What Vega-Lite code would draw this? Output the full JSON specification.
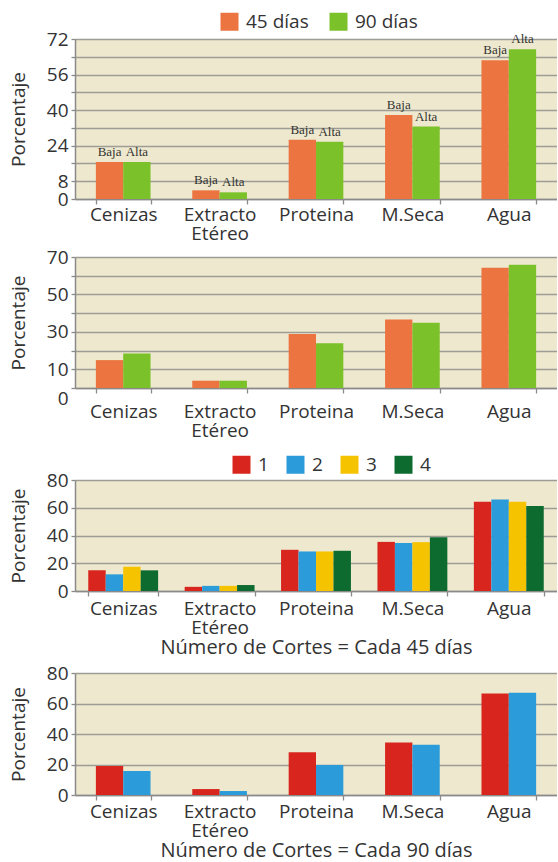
{
  "$schema": "https://vega.github.io/schema/vega-lite/v6.json",
  "padding": {"left": 9, "top": 12, "right": 0, "bottom": 0},
  "datasets": {
    "p1": [
      {"componente": "Cenizas", "edad": "45 días", "etiqueta": "Baja", "valor": 16.6},
      {"componente": "Cenizas", "edad": "90 días", "etiqueta": "Alta", "valor": 16.6},
      {"componente": "Extracto Etéreo", "edad": "45 días", "etiqueta": "Baja", "valor": 3.9},
      {"componente": "Extracto Etéreo", "edad": "90 días", "etiqueta": "Alta", "valor": 3.0},
      {"componente": "Proteina", "edad": "45 días", "etiqueta": "Baja", "valor": 26.7},
      {"componente": "Proteina", "edad": "90 días", "etiqueta": "Alta", "valor": 25.8},
      {"componente": "M.Seca", "edad": "45 días", "etiqueta": "Baja", "valor": 37.8},
      {"componente": "M.Seca", "edad": "90 días", "etiqueta": "Alta", "valor": 32.6},
      {"componente": "Agua", "edad": "45 días", "etiqueta": "Baja", "valor": 62.4},
      {"componente": "Agua", "edad": "90 días", "etiqueta": "Alta", "valor": 67.4}
    ],
    "p2": [
      {"componente": "Cenizas", "edad": "45 días", "valor": 14.9},
      {"componente": "Cenizas", "edad": "90 días", "valor": 18.4},
      {"componente": "Extracto Etéreo", "edad": "45 días", "valor": 3.9},
      {"componente": "Extracto Etéreo", "edad": "90 días", "valor": 3.9},
      {"componente": "Proteina", "edad": "45 días", "valor": 28.9},
      {"componente": "Proteina", "edad": "90 días", "valor": 23.9},
      {"componente": "M.Seca", "edad": "45 días", "valor": 36.6},
      {"componente": "M.Seca", "edad": "90 días", "valor": 34.8},
      {"componente": "Agua", "edad": "45 días", "valor": 64.3},
      {"componente": "Agua", "edad": "90 días", "valor": 65.9}
    ],
    "p3": [
      {"componente": "Cenizas", "corte": "1", "valor": 15.0},
      {"componente": "Cenizas", "corte": "2", "valor": 12.0},
      {"componente": "Cenizas", "corte": "3", "valor": 17.5},
      {"componente": "Cenizas", "corte": "4", "valor": 14.9},
      {"componente": "Extracto Etéreo", "corte": "1", "valor": 3.0},
      {"componente": "Extracto Etéreo", "corte": "2", "valor": 3.7},
      {"componente": "Extracto Etéreo", "corte": "3", "valor": 3.7},
      {"componente": "Extracto Etéreo", "corte": "4", "valor": 4.3},
      {"componente": "Proteina", "corte": "1", "valor": 29.7},
      {"componente": "Proteina", "corte": "2", "valor": 28.5},
      {"componente": "Proteina", "corte": "3", "valor": 28.5},
      {"componente": "Proteina", "corte": "4", "valor": 29.0},
      {"componente": "M.Seca", "corte": "1", "valor": 35.4},
      {"componente": "M.Seca", "corte": "2", "valor": 34.6},
      {"componente": "M.Seca", "corte": "3", "valor": 35.2},
      {"componente": "M.Seca", "corte": "4", "valor": 38.7},
      {"componente": "Agua", "corte": "1", "valor": 64.3},
      {"componente": "Agua", "corte": "2", "valor": 66.0},
      {"componente": "Agua", "corte": "3", "valor": 64.3},
      {"componente": "Agua", "corte": "4", "valor": 61.2}
    ],
    "p4": [
      {"componente": "Cenizas", "corte": "1", "valor": 19.0},
      {"componente": "Cenizas", "corte": "2", "valor": 15.7},
      {"componente": "Extracto Etéreo", "corte": "1", "valor": 3.9},
      {"componente": "Extracto Etéreo", "corte": "2", "valor": 2.6},
      {"componente": "Proteina", "corte": "1", "valor": 28.0},
      {"componente": "Proteina", "corte": "2", "valor": 19.7},
      {"componente": "M.Seca", "corte": "1", "valor": 34.5},
      {"componente": "M.Seca", "corte": "2", "valor": 33.0},
      {"componente": "Agua", "corte": "1", "valor": 66.6},
      {"componente": "Agua", "corte": "2", "valor": 67.0}
    ]
  },
  "bounds": "full",
  "spacing": 15,
  "resolve": {
    "scale": {"x": "independent", "y": "independent", "color": "independent", "xOffset": "independent"},
    "legend": {"color": "independent"}
  },
  "vconcat": [
    {
      "bounds": "flush",
      "spacing": 58,
      "resolve": {
        "scale": {"x": "independent", "y": "independent", "color": "independent", "xOffset": "independent"},
        "legend": {"color": "independent"}
      },
      "vconcat": [
        {
          "width": 482,
          "height": 160,
          "data": {"name": "p1"},
          "encoding": {
            "x": {"field": "componente", "type": "nominal", "sort": null,
              "scale": {"paddingInner": 0.433, "paddingOuter": 0.2165},
              "axis": {"title": null, "labelPadding": 1}},
            "xOffset": {"field": "edad", "type": "nominal", "sort": null},
            "y": {"field": "valor", "type": "quantitative",
              "scale": {"domain": [0, 72], "nice": false},
              "axis": {"title": "Porcentaje", "values": [0, 8, 16, 24, 32, 40, 48, 56, 64, 72],
                "labelExpr": "datum.value == 0 || datum.value % 16 == 8 ? datum.label : ''"}}
          },
          "layer": [
            {
              "mark": {"type": "bar"},
              "encoding": {
                "color": {"field": "edad", "type": "nominal",
                  "scale": {"domain": ["45 días", "90 días"], "range": ["#EC7440", "#7BC12A"]},
                  "legend": {"orient": "none", "legendX": 145, "legendY": -27, "direction": "horizontal",
                    "columns": 2, "columnPadding": 20, "title": null}}
              }
            },
            {
              "mark": {"type": "text", "font": "Liberation Serif", "fontSize": 13, "baseline": "alphabetic", "dy": -6, "color": "#333333"},
              "encoding": {"text": {"field": "etiqueta"}}
            }
          ]
        },
        {
          "width": 482,
          "height": 131,
          "data": {"name": "p2"},
          "mark": {"type": "bar"},
          "encoding": {
            "x": {"field": "componente", "type": "nominal", "sort": null,
              "scale": {"paddingInner": 0.433, "paddingOuter": 0.2165},
              "axis": {"title": null, "labelPadding": 9}},
            "xOffset": {"field": "edad", "type": "nominal", "sort": null},
            "y": {"field": "valor", "type": "quantitative",
              "scale": {"domain": [0, 70], "nice": false},
              "axis": {"title": "Porcentaje", "values": [0, 10, 20, 30, 40, 50, 60, 70],
                "labelExpr": "datum.value == 0 || datum.value % 20 == 10 ? datum.label : ''",
                "labelOffset": {"condition": {"test": "datum.value == 0", "value": 10}, "value": 0}}},
            "color": {"field": "edad", "type": "nominal",
              "scale": {"domain": ["45 días", "90 días"], "range": ["#EC7440", "#7BC12A"]},
              "legend": null}
          }
        }
      ]
    },
    {
      "bounds": "flush",
      "spacing": 82,
      "resolve": {
        "scale": {"x": "independent", "y": "independent", "color": "independent", "xOffset": "independent"},
        "legend": {"color": "independent"}
      },
      "vconcat": [
        {
          "width": 482,
          "height": 111,
          "data": {"name": "p3"},
          "mark": {"type": "bar"},
          "encoding": {
            "x": {"field": "componente", "type": "nominal", "sort": null,
              "scale": {"paddingInner": 0.275, "paddingOuter": 0.1375},
              "axis": {"title": "Número de Cortes = Cada 45 días", "labelPadding": 3.5}},
            "xOffset": {"field": "corte", "type": "nominal", "sort": null},
            "y": {"field": "valor", "type": "quantitative",
              "scale": {"domain": [0, 80], "nice": false},
              "axis": {"title": "Porcentaje", "values": [0, 20, 40, 60, 80]}},
            "color": {"field": "corte", "type": "nominal",
              "scale": {"domain": ["1", "2", "3", "4"], "range": ["#D8261F", "#2B9BD9", "#F6C300", "#0E6B30"]},
              "legend": {"orient": "none", "legendX": 157, "legendY": -25, "direction": "horizontal",
                "columns": 4, "columnPadding": 17, "title": null}}
          }
        },
        {
          "width": 482,
          "height": 122,
          "data": {"name": "p4"},
          "mark": {"type": "bar"},
          "encoding": {
            "x": {"field": "componente", "type": "nominal", "sort": null,
              "scale": {"paddingInner": 0.433, "paddingOuter": 0.2165},
              "axis": {"title": "Número de Cortes = Cada 90 días", "labelPadding": 2.7}},
            "xOffset": {"field": "corte", "type": "nominal", "sort": null},
            "y": {"field": "valor", "type": "quantitative",
              "scale": {"domain": [0, 80], "nice": false},
              "axis": {"title": "Porcentaje", "values": [0, 20, 40, 60, 80]}},
            "color": {"field": "corte", "type": "nominal",
              "scale": {"domain": ["1", "2"], "range": ["#D8261F", "#2B9BD9"]},
              "legend": null}
          }
        }
      ]
    }
  ],
  "config": {
    "font": "Open Sans",
    "view": {"fill": "#EEE9CE", "stroke": null},
    "axis": {
      "labelFont": "Open Sans", "labelFontSize": 19, "labelColor": "#333333",
      "titleFont": "Open Sans", "titleFontSize": 19, "titleFontWeight": "normal", "titleColor": "#333333",
      "domainColor": "#8a8a8a", "domainWidth": 1.5, "tickColor": "#8a8a8a", "tickWidth": 1.3,
      "gridColor": "#9d9d96", "gridWidth": 1.3, "labelOverlap": false
    },
    "axisX": {"grid": false, "tickBand": "extent", "tickSize": 5, "labelAngle": 0, "labelLineHeight": 19,
      "labelExpr": "datum.label == 'Extracto Etéreo' ? ['Extracto', 'Etéreo'] : datum.label",
      "titleFontSize": 20, "titlePadding": 0},
    "axisY": {"grid": true, "tickSize": 4, "labelPadding": 3, "titlePadding": 18},
    "legend": {"labelFont": "Open Sans", "labelFontSize": 19, "labelColor": "#333333", "symbolType": "square",
      "symbolSize": 324, "symbolStrokeWidth": 0, "symbolOpacity": 1, "labelOffset": 7, "padding": 0}
  }
}
